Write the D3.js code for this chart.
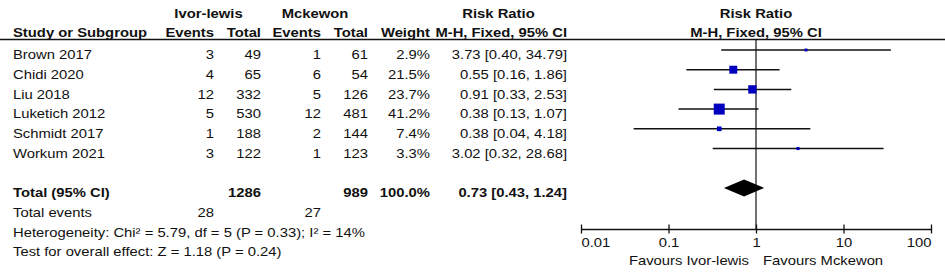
<!DOCTYPE html>
<html>
<head>
<meta charset="utf-8">
<script src="https://cdn.jsdelivr.net/npm/d3@7"></script>
<style>
  html, body { margin: 0; padding: 0; background: #fff; }
  svg { display: block; }
  text { font-family: Arial, "Liberation Sans", sans-serif; fill: #111; }
</style>
</head>
<body>
<svg id="chart" width="945" height="278"></svg>
<script>
// ---- data ----
const studies = ["Brown 2017", "Chidi 2020", "Liu 2018", "Luketich 2012", "Schmidt 2017", "Workum 2021"];
const ivorEvents = [3, 4, 12, 5, 1, 3];
const ivorTotal = [49, 65, 332, 530, 188, 122];
const mckEvents = [1, 6, 5, 12, 2, 1];
const mckTotal = [61, 54, 126, 481, 144, 123];
const weights = [2.9, 21.5, 23.7, 41.2, 7.4, 3.3];
const rr = [3.73, 0.55, 0.91, 0.38, 0.38, 3.02];
const ciLow = [0.40, 0.16, 0.33, 0.13, 0.04, 0.32];
const ciHigh = [34.79, 1.86, 2.53, 1.07, 4.18, 28.68];
const totalLabel = "Total (95% CI)";
const totalIvor = 1286;
const totalMck = 989;
const totalWeight = 100.0;
const totalRR = [0.73, 0.43, 1.24];
const totalEventsIvor = 28;
const totalEventsMck = 27;
const heterogeneityText = "Heterogeneity: Chi\u00b2 = 5.79, df = 5 (P = 0.33); I\u00b2 = 14%";
const overallText = "Test for overall effect: Z = 1.18 (P = 0.24)";
const axisTicks = [0.01, 0.1, 1, 10, 100];
const favoursLeft = "Favours Ivor-lewis";
const favoursRight = "Favours Mckewon";

// ---- layout ----
const svg = d3.select("#chart");
const SX = 1.14;
const FS = 13;

function txt(x, y, s, anchor, bold) {
  return svg.append("text")
    .attr("transform", `translate(${x},${y}) scale(${SX},1)`)
    .attr("text-anchor", anchor || "start")
    .attr("font-size", FS)
    .attr("font-weight", bold ? "bold" : "normal")
    .text(s);
}

const rowY = d3.scaleLinear().domain([0, 1]).range([59.3, 59.3 + 19.7]); // baseline per row index
const markerOffset = 9.3;

const x = d3.scaleLog().domain([0.01, 100]).range([581, 931]);
const axisY = 229;

// column right edges
const col = { study: 13, ivE: 214, ivT: 261, mkE: 321, mkT: 368, w: 430, rr: 567 };

// headers
txt((156 + 261) / 2, 18.3, "Ivor-lewis", "middle", true);
txt((262 + 368) / 2, 18.3, "Mckewon", "middle", true);
txt((430 + 567) / 2, 18.3, "Risk Ratio", "middle", true);
txt(x(1), 18.3, "Risk Ratio", "middle", true);
txt(col.study, 36.5, "Study or Subgroup", "start", true);
txt(col.ivE, 36.5, "Events", "end", true);
txt(col.ivT, 36.5, "Total", "end", true);
txt(col.mkE, 36.5, "Events", "end", true);
txt(col.mkT, 36.5, "Total", "end", true);
txt(col.w, 36.5, "Weight", "end", true);
txt(col.rr, 36.5, "M-H, Fixed, 95% CI", "end", true);
txt(x(1), 36.5, "M-H, Fixed, 95% CI", "middle", true);

svg.append("line").attr("x1", 0).attr("x2", 945).attr("y1", 39.5).attr("y2", 39.5)
  .attr("stroke", "#111").attr("stroke-width", 1.5);

// study rows
const f2 = d3.format(".2f");
studies.forEach((s, i) => {
  const y = rowY(i);
  txt(col.study, y, s, "start");
  txt(col.ivE, y, ivorEvents[i], "end");
  txt(col.ivT, y, ivorTotal[i], "end");
  txt(col.mkE, y, mckEvents[i], "end");
  txt(col.mkT, y, mckTotal[i], "end");
  txt(col.w, y, d3.format(".1f")(weights[i]) + "%", "end");
  txt(col.rr, y, `${f2(rr[i])} [${f2(ciLow[i])}, ${f2(ciHigh[i])}]`, "end");
});

// total rows
const tY = rowY(7);
txt(col.study, tY, totalLabel, "start", true);
txt(col.ivT, tY, totalIvor, "end", true);
txt(col.mkT, tY, totalMck, "end", true);
txt(col.w, tY, d3.format(".1f")(totalWeight) + "%", "end", true);
txt(col.rr, tY, `${f2(totalRR[0])} [${f2(totalRR[1])}, ${f2(totalRR[2])}]`, "end", true);

txt(col.study, rowY(8), "Total events", "start");
txt(col.ivE, rowY(8), totalEventsIvor, "end");
txt(col.mkE, rowY(8), totalEventsMck, "end");
txt(col.study, rowY(9), heterogeneityText, "start");
txt(col.study, rowY(10), overallText, "start");

// forest plot: vertical line of no effect
svg.append("line").attr("x1", x(1)).attr("x2", x(1)).attr("y1", 40).attr("y2", axisY)
  .attr("stroke", "#111").attr("stroke-width", 1.2);

// CI lines
const size = d3.scaleSqrt().domain([0, d3.max(weights)]).range([0, 11]);
studies.forEach((s, i) => {
  const y = rowY(i) - markerOffset;
  svg.append("line").attr("x1", x(ciLow[i])).attr("x2", x(ciHigh[i]))
    .attr("y1", y).attr("y2", y).attr("stroke", "#111").attr("stroke-width", 1.5);
  const sz = Math.max(2.5, size(weights[i]));
  svg.append("rect").attr("x", x(rr[i]) - sz / 2).attr("y", y - sz / 2)
    .attr("width", sz).attr("height", sz).attr("fill", "#0000BE");
});

// diamond
const dY = tY - markerOffset;
svg.append("path")
  .attr("d", `M${x(totalRR[1])},${dY} L${x(totalRR[0])},${dY - 8.5} L${x(totalRR[2])},${dY} L${x(totalRR[0])},${dY + 8.5} Z`)
  .attr("fill", "#000");

// axis
const axis = d3.axisBottom(x).tickValues(axisTicks).tickSizeInner(4.5).tickSizeOuter(0)
  .tickFormat(d => String(d));
const ag = svg.append("g").attr("transform", `translate(0,${axisY})`).call(axis);
ag.select(".domain").attr("stroke", "#111").attr("stroke-width", 1.5);
ag.selectAll(".tick line").attr("y1", -4.5).attr("stroke", "#111").attr("stroke-width", 1.3);
ag.selectAll(".tick text")
  .attr("y", 0).attr("dy", null)
  .attr("font-size", FS)
  .attr("font-family", "Arial, 'Liberation Sans', sans-serif")
  .attr("fill", "#111")
  .attr("transform", `translate(0,17.7) scale(${SX},1)`)
  .attr("text-anchor", (d, i) => i === 0 ? "start" : (i === axisTicks.length - 1 ? "end" : "middle"));

txt(x(1) - 7, 265, favoursLeft, "end");
txt(x(1) + 7, 265, favoursRight, "start");
</script>
</body>
</html>
